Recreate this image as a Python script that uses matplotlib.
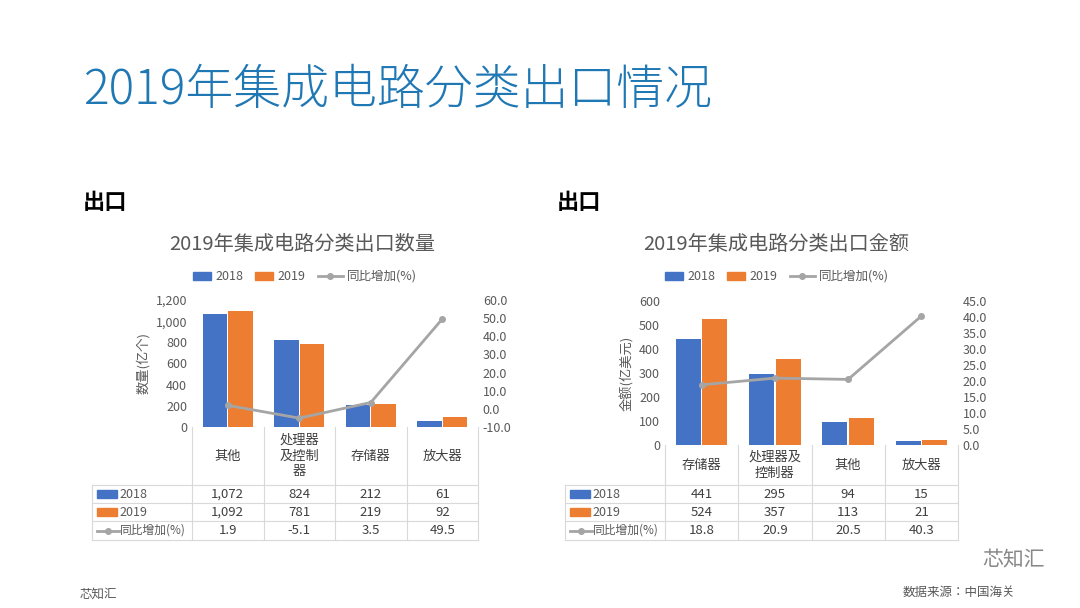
import matplotlib
matplotlib.use("Agg")
import matplotlib.pyplot as plt
from matplotlib import font_manager
from matplotlib.lines import Line2D
import numpy as np

names = sorted({f.name for f in font_manager.fontManager.ttflist if 'CJK' in f.name})
pref = [n for n in ['Noto Sans CJK SC', 'Noto Sans CJK JP', 'Noto Sans CJK TC', 'Noto Sans CJK KR'] if n in names] + names
plt.rcParams['font.family'] = 'sans-serif'
plt.rcParams['font.sans-serif'] = pref + ['DejaVu Sans']
plt.rcParams['axes.unicode_minus'] = False

W, H = 1080, 608
BLUE = '#4472C4'; ORANGE = '#ED7D31'; GRAY = '#A5A5A5'; TXT = '#595959'; GRID = '#D9D9D9'

left_cats = ['其他', '处理器\n及控制\n器', '存储器', '放大器']
left_2018 = [1072, 824, 212, 61]
left_2019 = [1092, 781, 219, 92]
left_yoy = [1.9, -5.1, 3.5, 49.5]

right_cats = ['存储器', '处理器及\n控制器', '其他', '放大器']
right_2018 = [441, 295, 94, 15]
right_2019 = [524, 357, 113, 21]
right_yoy = [18.8, 20.9, 20.5, 40.3]

fig = plt.figure(figsize=(W/100, H/100), dpi=100)
fig.patch.set_facecolor('white')

def fx(x): return x / W
def fy(y): return 1 - y / H

fig.text(fx(83), fy(90), '2019年集成电路分类出口情况', fontsize=34.5, fontweight='light', color='#1F78B4', va='center', ha='left')
fig.text(fx(83), fy(203), '出口', fontsize=16, fontweight='bold', va='center')
fig.text(fx(557), fy(203), '出口', fontsize=16, fontweight='bold', va='center')
fig.text(fx(80), fy(594), '芯知汇', fontsize=9, color=TXT, va='center')
fig.text(fx(1015), fy(592), '数据来源：中国海关', fontsize=9, color=TXT, va='center', ha='right')
fig.text(fx(1045), fy(560), '芯知汇', fontsize=15, color='#888888', va='center', ha='right')

def hline(x0, x1, y, c=GRID):
    fig.add_artist(Line2D([fx(x0), fx(x1)], [fy(y), fy(y)], color=c, lw=0.8))
def vline(x, y0, y1, c=GRID):
    fig.add_artist(Line2D([fx(x), fx(x)], [fy(y0), fy(y1)], color=c, lw=0.8))

def chart(x0, x1, ytop, ybot, title, title_y, ylab, cats, a, b, yoy,
          ymax, ystep, fmt, y2min, y2max, y2step, lab_x0, hdr_bot, legend_x, ttl_x):
    ax = fig.add_axes([fx(x0), fy(ybot), fx(x1) - fx(x0), (ybot - ytop) / H])
    x = np.arange(len(cats))
    w = 0.34
    ax.bar(x - w/2 - 0.01, a, w, color=BLUE, zorder=2)
    ax.bar(x + w/2 + 0.01, b, w, color=ORANGE, zorder=2)
    ax.set_xlim(-0.5, len(cats) - 0.5)
    ax.set_ylim(0, ymax)
    ax.set_yticks(np.arange(0, ymax + 1, ystep))
    ax.set_yticklabels([fmt.format(v) for v in np.arange(0, ymax + 1, ystep)], fontsize=9, color=TXT)
    ax.set_xticks([])
    for s in ax.spines.values(): s.set_visible(False)
    ax.tick_params(length=0)
    ax.set_ylabel(ylab, fontsize=9.5, color=TXT)
    ax2 = ax.twinx()
    ax2.plot(x, yoy, color=GRAY, lw=2, marker='o', ms=4, zorder=3)
    ax2.set_ylim(y2min, y2max)
    t2 = np.arange(y2min, y2max + 0.01, y2step)
    ax2.set_yticks(t2)
    ax2.set_yticklabels(['{:.1f}'.format(v) for v in t2], fontsize=9, color=TXT)
    for s in ax2.spines.values(): s.set_visible(False)
    ax2.tick_params(length=0)
    fig.text(fx(ttl_x), fy(title_y), title, fontsize=14.5, color=TXT, ha='center', va='center')
    lx = legend_x; ly = fy(276)
    fig.patches.append(plt.Rectangle((fx(lx), ly - 0.006), fx(18), 0.012, color=BLUE, transform=fig.transFigure))
    fig.text(fx(lx + 22), ly, '2018', fontsize=9, color=TXT, va='center')
    fig.patches.append(plt.Rectangle((fx(lx + 62), ly - 0.006), fx(18), 0.012, color=ORANGE, transform=fig.transFigure))
    fig.text(fx(lx + 84), ly, '2019', fontsize=9, color=TXT, va='center')
    fig.add_artist(Line2D([fx(lx + 125), fx(lx + 150)], [ly, ly], color=GRAY, lw=2))
    fig.add_artist(Line2D([fx(lx + 137)], [ly], color=GRAY, marker='o', ms=4))
    fig.text(fx(lx + 154), ly, '同比增加(%)', fontsize=9, color=TXT, va='center')
    cw = (x1 - x0) / len(cats)
    rows = [hdr_bot, hdr_bot + 18, hdr_bot + 36, hdr_bot + 55]
    for i in range(len(cats) + 1):
        vline(x0 + i * cw, ybot, rows[-1])
    vline(lab_x0, rows[0], rows[-1])
    for r in rows:
        hline(lab_x0, x1, r)
    for i, c in enumerate(cats):
        fig.text(fx(x0 + (i + 0.5) * cw), fy((ybot + hdr_bot) / 2), c, fontsize=9.5, color='#404040',
                 ha='center', va='center', linespacing=1.3)
    labels = ['2018', '2019', '同比增加(%)']
    vals = [[f'{v:,}' for v in a], [f'{v:,}' for v in b], [f'{v:.1f}' for v in yoy]]
    for j in range(3):
        cy = fy((rows[j] + rows[j + 1]) / 2)
        if j < 2:
            fig.patches.append(plt.Rectangle((fx(lab_x0 + 5), cy - 0.006), fx(20), 0.012,
                                             color=[BLUE, ORANGE][j], transform=fig.transFigure))
            fig.text(fx(lab_x0 + 27), cy, labels[j], fontsize=9, color=TXT, va='center')
        else:
            fig.add_artist(Line2D([fx(lab_x0 + 5), fx(lab_x0 + 27)], [cy, cy], color=GRAY, lw=2))
            fig.add_artist(Line2D([fx(lab_x0 + 16)], [cy], color=GRAY, marker='o', ms=4))
            fig.text(fx(lab_x0 + 28), cy, labels[j], fontsize=8.5, color=TXT, va='center')
        for i in range(len(cats)):
            fig.text(fx(x0 + (i + 0.5) * cw), cy, vals[j][i], fontsize=9.5, color='#404040', ha='center', va='center')

chart(192, 478, 300, 427, '2019年集成电路分类出口数量', 244, '数量(亿个)', left_cats, left_2018, left_2019, left_yoy,
      1200, 200, '{:,}', -10, 60, 10, 92, 485, 193, 302)
chart(665, 958, 301, 445, '2019年集成电路分类出口金额', 244, '金额(亿美元)', right_cats, right_2018, right_2019, right_yoy,
      600, 100, '{}', 0, 45, 5, 565, 485, 665, 776)

fig.savefig('out.png', dpi=100, facecolor='white')
